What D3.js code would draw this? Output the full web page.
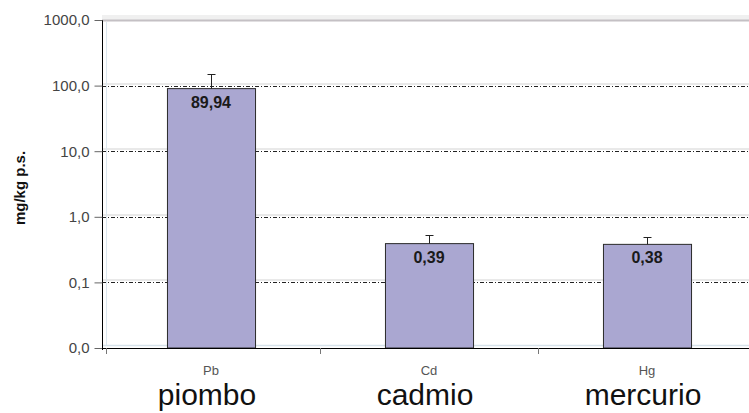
<!DOCTYPE html>
<html>
<head>
<meta charset="utf-8">
<script src="https://cdn.jsdelivr.net/npm/d3@7"></script>
<style>
  html, body { margin: 0; padding: 0; background: #fff; }
  svg { display: block; }
</style>
</head>
<body>
<svg id="chart" width="749" height="413"></svg>
<script>
// ---- data ----
const categories = ["Pb", "Cd", "Hg"];
const names = ["piombo", "cadmio", "mercurio"];
const values = [89.94, 0.39, 0.38];
const errorUpper = [152, 0.52, 0.49];
const yTicks = [0.01, 0.1, 1, 10, 100, 1000];
const yTitle = "mg/kg p.s.";

(function () {
const locale = d3.formatLocale({decimal: ",", thousands: ".", grouping: [3], currency: ["", " €"]});
const fmtTick = locale.format(".1f");
const fmtVal = locale.format(".2f");

const svg = d3.select("#chart");
const pLeft = 102, pRight = 749, pTop = 20, pBottom = 348;

const y = d3.scaleLog().domain([0.01, 1000]).range([pBottom, pTop]);
const x = d3.scaleBand().domain(categories).range([pLeft, 756]).paddingInner(0.596).paddingOuter(0.298);
const step = x.step();

// top border band
svg.append("rect").attr("x", pLeft).attr("y", 15).attr("width", pRight - pLeft).attr("height", 5).attr("fill", "#f0f0f0");
svg.append("line").attr("x1", pLeft).attr("x2", pRight).attr("y1", pTop + 0.5).attr("y2", pTop + 0.5)
  .attr("stroke", "#c4c0c4").attr("stroke-width", 2);

// gridlines
const gridVals = yTicks.filter(v => v > 0.01 && v < 1000);
svg.append("g").selectAll("line").data(gridVals).join("line")
  .attr("x1", pLeft).attr("x2", pRight)
  .attr("y1", d => Math.round(y(d)) - 2).attr("y2", d => Math.round(y(d)) - 2)
  .attr("stroke", "#e2e2e2").attr("stroke-width", 1.5);
svg.append("g").selectAll("line").data(gridVals).join("line")
  .attr("x1", pLeft).attr("x2", pRight)
  .attr("y1", d => Math.round(y(d)) + 0.5).attr("y2", d => Math.round(y(d)) + 0.5)
  .attr("stroke", "#222").attr("stroke-width", 1).attr("stroke-dasharray", "4,2,1,2");

// light inner frame lines
svg.append("line").attr("x1", pLeft + 4.5).attr("x2", pLeft + 4.5).attr("y1", pTop + 2).attr("y2", pBottom - 2)
  .attr("stroke", "#dbe6ee").attr("stroke-width", 1);
svg.append("line").attr("x1", pLeft).attr("x2", pRight).attr("y1", pBottom - 2.5).attr("y2", pBottom - 2.5)
  .attr("stroke", "#d6e2ea").attr("stroke-width", 1.5);

// bars
svg.append("g").selectAll("rect").data(values).join("rect")
  .attr("x", (d, i) => x(categories[i]) + 0.5)
  .attr("y", d => y(d))
  .attr("width", x.bandwidth())
  .attr("height", d => pBottom - y(d))
  .attr("fill", "#aaa7d1")
  .attr("stroke", "#2a2a2a").attr("stroke-width", 1);

// error bars
const eb = svg.append("g").attr("stroke", "#222").attr("stroke-width", 1);
values.forEach((v, i) => {
  const cx = Math.round(x(categories[i]) + x.bandwidth() / 2) + 0.5;
  const ty = Math.round(y(errorUpper[i])) + 0.5;
  eb.append("line").attr("x1", cx).attr("x2", cx).attr("y1", y(v)).attr("y2", ty);
  eb.append("line").attr("x1", cx - 4).attr("x2", cx + 4).attr("y1", ty).attr("y2", ty);
});

// value labels
svg.append("g").selectAll("text").data(values).join("text")
  .attr("x", (d, i) => x(categories[i]) + x.bandwidth() / 2)
  .attr("y", d => y(d) + 19)
  .attr("text-anchor", "middle")
  .attr("font-family", "Liberation Sans, Arial, sans-serif")
  .attr("font-weight", "bold").attr("font-size", 16).attr("fill", "#1a1a1a")
  .text(d => fmtVal(d));

// y axis
const yAxis = d3.axisLeft(y).tickValues(yTicks).tickFormat(fmtTick).tickSize(8).tickPadding(5);
const gy = svg.append("g").attr("transform", `translate(${pLeft + 0.5},0)`).call(yAxis);
gy.select(".domain").attr("stroke", "#000").attr("d", `M0,${pTop}V${pBottom + 2}`);
gy.selectAll(".tick line").attr("stroke", "#666");
gy.selectAll(".tick text").attr("font-family", "Liberation Sans, Arial, sans-serif")
  .attr("font-size", 15).attr("fill", "#444");

// x axis
svg.append("line").attr("x1", pLeft).attr("x2", pRight).attr("y1", pBottom + 0.5).attr("y2", pBottom + 0.5)
  .attr("stroke", "#000").attr("stroke-width", 1);
const boundaries = [pLeft + 4].concat(categories.slice(0, -1).map(c => x(c) + x.bandwidth() / 2 + step / 2));
svg.append("g").selectAll("line").data(boundaries).join("line")
  .attr("x1", d => Math.round(d) + 0.5).attr("x2", d => Math.round(d) + 0.5)
  .attr("y1", pBottom).attr("y2", pBottom + 6)
  .attr("stroke", "#777").attr("stroke-width", 1);

// category labels
svg.append("g").selectAll("text").data(categories).join("text")
  .attr("x", d => x(d) + x.bandwidth() / 2)
  .attr("y", 375)
  .attr("text-anchor", "middle")
  .attr("font-family", "Liberation Sans, Arial, sans-serif")
  .attr("font-size", 13).attr("fill", "#555")
  .text(d => d);

// Italian names
svg.append("g").selectAll("text").data(names).join("text")
  .attr("x", (d, i) => x(categories[i]) + x.bandwidth() / 2 - 4)
  .attr("y", 405)
  .attr("text-anchor", "middle")
  .attr("font-family", "Liberation Sans, Arial, sans-serif")
  .attr("font-size", 30).attr("fill", "#111")
  .text(d => d);

// y title
svg.append("text")
  .attr("transform", "translate(25,188) rotate(-90)")
  .attr("text-anchor", "middle")
  .attr("font-family", "Liberation Sans, Arial, sans-serif")
  .attr("font-weight", "bold").attr("font-size", 15).attr("fill", "#111")
  .text(yTitle);
})();
</script>
</body>
</html>
